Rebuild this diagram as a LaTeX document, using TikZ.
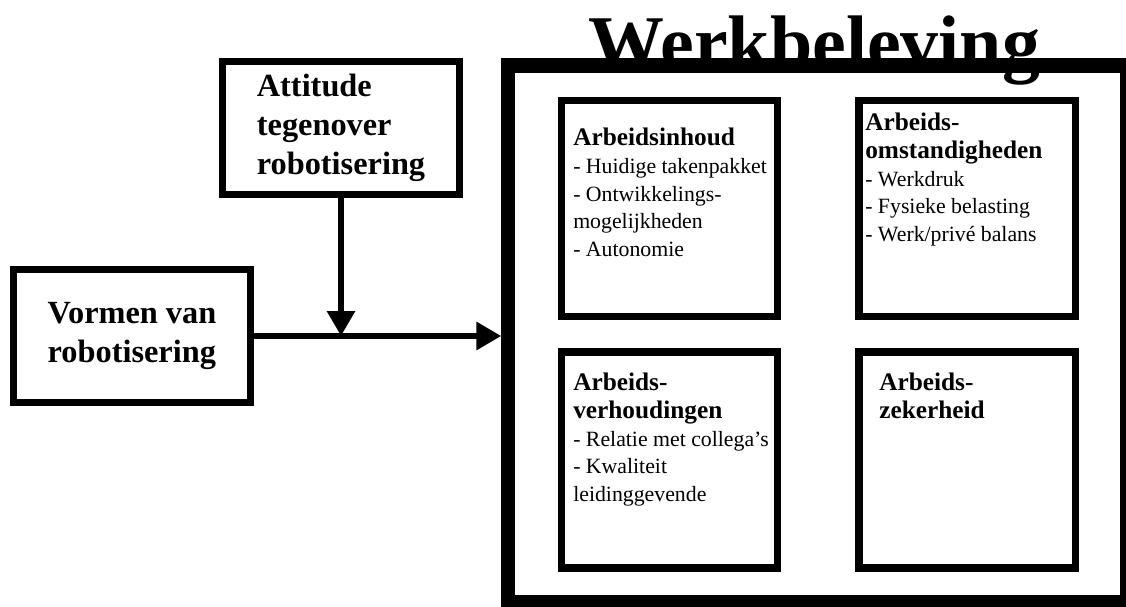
\documentclass[tikz,border=0pt]{standalone}
\usepackage{fontspec}
\setmainfont{Liberation Serif}
\usetikzlibrary{arrows.meta}

\tikzset{
  kader/.style={draw=black, line width=5pt, minimum width=5.925cm, minimum height=3.325cm, align=left, font=\bfseries\fontsize{23}{27.6}\selectfont},
  vak/.style={draw=black, line width=5pt, minimum width=5.4cm, minimum height=5.4cm},
  vaktekst/.style={anchor=north west, inner sep=0pt, align=left, font=\fontsize{15.5}{19.8}\selectfont},
  pijl/.style={line width=4.5pt, -{Triangle[length=17.7pt, width=19.1pt]}}
}
\newcommand{\kop}[1]{{\bfseries\fontsize{18}{19.8}\selectfont #1}}

\begin{document}
\begin{tikzpicture}
    \useasboundingbox (0,0) rectangle (28.15,15.15);
    % hoofdkader met titel
    \node[draw=black, line width=10pt, minimum width=15.4625cm, minimum height=13.4125cm] (werk) at (20.44, 6.806) {};
    \node[anchor=base, font=\bfseries\fontsize{54}{60}\selectfont] (titel) at (20.36, 13.44) {Werkbeleving};
    % vier vakken
    \node[vak] (inhoud) at (16.7375, 9.9375) {};
    \node[vak] (omstandigheden) at (24.175, 9.9375) {};
    \node[vak] (verhoudingen) at (16.7375, 3.65) {};
    \node[vak] (zekerheid) at (24.175, 3.65) {};
    \node[vaktekst] (inhoud_txt) at (14.325, 11.9625) {\kop{Arbeidsinhoud}\\- Huidige takenpakket\\- Ontwikkelings-\\mogelijkheden\\- Autonomie};
    \node[vaktekst] (omst_txt) at (21.625, 12.3375) {\kop{Arbeids-}\\\kop{omstandigheden}\\- Werkdruk\\- Fysieke belasting\\- Werk/privé balans};
    \node[vaktekst] (verh_txt) at (14.325, 5.8375) {\kop{Arbeids-}\\\kop{verhoudingen}\\- Relatie met collega’s\\- Kwaliteit\\leidinggevende};
    \node[vaktekst] (zek_txt) at (21.975, 5.8375) {\kop{Arbeids-}\\\kop{zekerheid}};
    % links
    \node[kader] (attitude) at (8.525, 11.95) {Attitude\\tegenover\\robotisering};
    \node[kader] (vormen) at (3.3, 6.75) {Vormen van\\robotisering};
    \coordinate (samen) at (attitude.south |- vormen.east);
    \draw[pijl] (vormen.east) -- (vormen.east -| werk.west);
    \draw[pijl] (attitude.south) -- (samen);
\end{tikzpicture}
\end{document}
